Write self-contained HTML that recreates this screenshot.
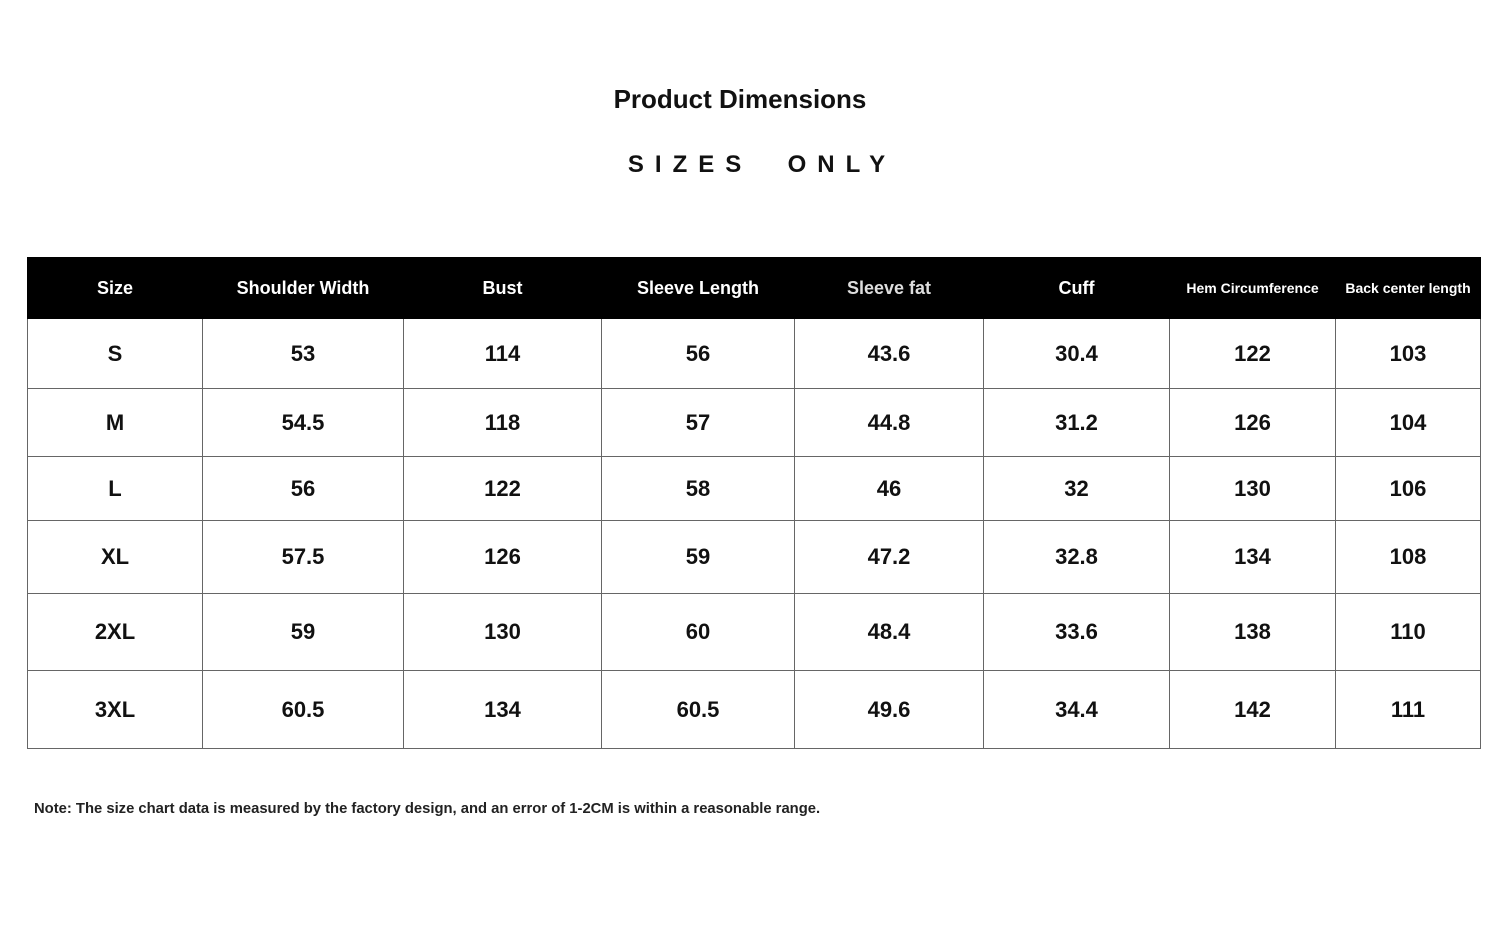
<!DOCTYPE html>
<html><head><meta charset="utf-8"><style>
body{margin:0;width:1500px;height:931px;background:#fff;position:relative;font-family:"Liberation Sans",sans-serif;overflow:hidden}
.t{position:absolute;left:0;width:1500px;text-align:center;font-weight:bold;color:#111}
table{position:absolute;left:27px;top:257px;border-collapse:collapse;table-layout:fixed}
td,th{border:1px solid #666;text-align:center;padding:0;font-weight:bold;color:#111;font-size:22px}
th{background:#000;color:#fff;font-size:18px;height:60px;border-color:#000}
th.s{font-size:14px}
</style></head><body>
<div class="t" style="top:84px;left:-10px;font-size:26px;">Product Dimensions</div>
<div class="t" style="top:151px;left:12px;font-size:24px;letter-spacing:11px;">SIZES&nbsp;&nbsp;ONLY</div>
<table>
<colgroup><col style="width:175px"><col style="width:201px"><col style="width:198px"><col style="width:193px"><col style="width:189px"><col style="width:186px"><col style="width:166px"><col style="width:145px"></colgroup>
<tr><th>Size</th><th>Shoulder Width</th><th>Bust</th><th>Sleeve Length</th><th style="color:#ddd">Sleeve fat</th><th>Cuff</th><th class="s">Hem Circumference</th><th class="s">Back center length</th></tr>
<tr style="height:70px"><td>S</td><td>53</td><td>114</td><td>56</td><td>43.6</td><td>30.4</td><td>122</td><td>103</td></tr>
<tr style="height:68px"><td>M</td><td>54.5</td><td>118</td><td>57</td><td>44.8</td><td>31.2</td><td>126</td><td>104</td></tr>
<tr style="height:64px"><td>L</td><td>56</td><td>122</td><td>58</td><td>46</td><td>32</td><td>130</td><td>106</td></tr>
<tr style="height:73px"><td>XL</td><td>57.5</td><td>126</td><td>59</td><td>47.2</td><td>32.8</td><td>134</td><td>108</td></tr>
<tr style="height:77px"><td>2XL</td><td>59</td><td>130</td><td>60</td><td>48.4</td><td>33.6</td><td>138</td><td>110</td></tr>
<tr style="height:78px"><td>3XL</td><td>60.5</td><td>134</td><td>60.5</td><td>49.6</td><td>34.4</td><td>142</td><td>111</td></tr>
</table>
<div style="position:absolute;left:34px;top:801px;font-size:14.8px;font-weight:bold;color:#222;">Note: The size chart data is measured by the factory design, and an error of 1-2CM is within a reasonable range.</div>
</body></html>
